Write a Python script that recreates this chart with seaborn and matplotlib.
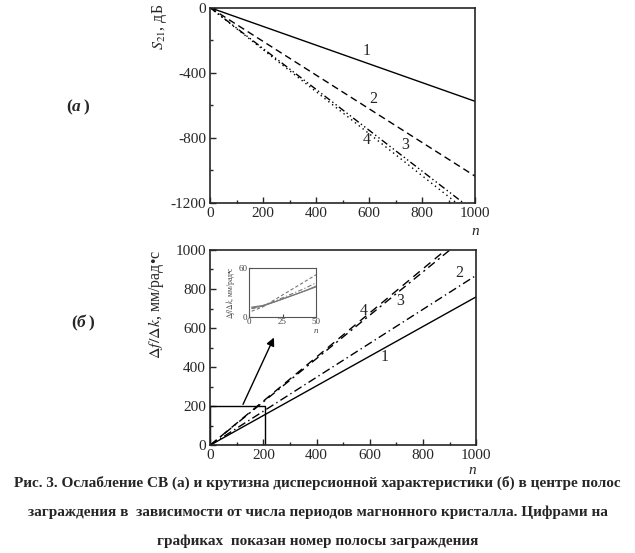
import matplotlib
matplotlib.use("Agg")
import matplotlib.pyplot as plt
import seaborn as sns
import pandas as pd
from matplotlib.patches import Rectangle

# ---- data ----
n_main = [0, 200, 400, 600, 800, 1000]
s21_1 = [0, -115, -230, -345, -460, -575]
s21_2 = [0, -207, -414, -621, -828, -1035]
s21_3 = [0, -251, -502, -753, -1004, -1255]
s21_4 = [0, -258, -516, -774, -1032, -1290]

slope_1 = [0, 152, 304, 456, 608, 760]
slope_2 = [0, 174, 348, 522, 696, 870]
slope_3 = [0, 222, 444, 666, 888, 1110]
slope_4 = [0, 226, 452, 678, 904, 1130]

n_inset = [2, 10, 20, 30, 40, 50]
ins_1 = [11, 13, 19, 25, 31, 37]
ins_2 = [10, 13, 20, 27, 34, 42]
ins_3 = [7, 12, 22, 32, 42, 52]
ins_4 = [12, 14, 19, 25, 31, 38]

series_names = ["1", "2", "3", "4"]
x_ticks = [0, 200, 400, 600, 800, 1000]
top_yticks = [0, -400, -800, -1200]
bot_yticks = [0, 200, 400, 600, 800, 1000]

caption = ["Рис. 3. Ослабление СВ (а) и крутизна дисперсионной характеристики (б) в центре полос",
           "заграждения в  зависимости от числа периодов магнонного кристалла. Цифрами на",
           "графиках  показан номер полосы заграждения"]

sns.set_style("ticks")
plt.rcParams['font.family'] = ['Liberation Serif', 'DejaVu Serif']
plt.rcParams['mathtext.fontset'] = 'stix'
plt.rcParams['xtick.direction'] = 'in'
plt.rcParams['ytick.direction'] = 'in'

def long_df(x, ys):
    rows = []
    for name, y in zip(series_names, ys):
        for xi, yi in zip(x, y):
            rows.append({"n": xi, "v": yi, "s": name})
    return pd.DataFrame(rows)

fig = plt.figure(figsize=(6.35, 5.53), dpi=100)

ax1 = fig.add_axes([0.331, 0.633, 0.417, 0.353])
ax2 = fig.add_axes([0.331, 0.195, 0.419, 0.353])

dash_top = {"1": "", "2": (5, 3), "3": (5, 2, 1, 2, 1, 2), "4": (1, 2.5)}
dash_bot = {"1": "", "2": (6, 2.5, 1, 2.5), "3": (6, 3, 1.5, 3), "4": (6, 4)}

df_top = long_df(n_main, [s21_1, s21_2, s21_3, s21_4])
df_bot = long_df(n_main, [slope_1, slope_2, slope_3, slope_4])
df_in = long_df(n_inset, [ins_1, ins_2, ins_3, ins_4])

pal = {k: "black" for k in series_names}
sns.lineplot(data=df_top, x="n", y="v", hue="s", style="s", dashes=dash_top,
             palette=pal, ax=ax1, legend=False, linewidth=1.0)
sns.lineplot(data=df_bot, x="n", y="v", hue="s", style="s", dashes=dash_bot,
             palette=pal, ax=ax2, legend=False, linewidth=1.0)

for ax in (ax1, ax2):
    for sp in ax.spines.values():
        sp.set_linewidth(1.2)
        sp.set_visible(True)
    ax.set_xlim(0, 1000)
    ax.set_xticks(x_ticks)
    ax.set_xticks([100, 300, 500, 700, 900], minor=True)
    ax.tick_params(axis='both', which='major', labelsize=11, length=4, width=1, pad=3)
    ax.tick_params(axis='both', which='minor', length=2.5, width=1)
    ax.set_xlabel("")

ax1.text(1.0, -0.145, "n", transform=ax1.transAxes, style='italic', fontsize=11,
         ha='center', va='center')
ax2.text(0.985, -0.13, "n", transform=ax2.transAxes, style='italic', fontsize=11,
         ha='center', va='center')

ax1.set_ylim(-1200, 0)
ax1.set_yticks(top_yticks)
ax1.set_yticks([-200, -600, -1000], minor=True)
ax1.set_yticklabels([str(v) for v in top_yticks])
ax1.set_ylabel(r"$S_{21}$, дБ", fontsize=11.5, loc='top')
ax1.yaxis.set_label_coords(-0.155, 1.02)

ax2.set_ylim(0, 1000)
ax2.set_yticks(bot_yticks)
ax2.set_yticks([100, 300, 500, 700, 900], minor=True)
ax2.set_ylabel(r"$\Delta f/\Delta k$, мм/рад•с", fontsize=11.5, loc='top')
ax2.yaxis.set_label_coords(-0.165, 1.0)

# curve labels
for txt, (x, y) in zip(series_names, [(589, -267), (614, -564), (736, -845), (591, -810)]):
    ax1.text(x, y, txt, fontsize=11.5, ha='center', va='center')
for txt, (x, y) in zip(series_names, [(656, 450), (935, 880), (715, 736), (577, 687)]):
    ax2.text(x, y, txt, fontsize=11.5, ha='center', va='center')

# zoom box and arrow
ax2.add_patch(Rectangle((0, 0), 205, 200, fill=False, edgecolor='black', linewidth=1.0))
ax2.annotate("", xy=(244, 564), xytext=(119, 196),
             arrowprops=dict(arrowstyle='-|>', color='black', lw=1.0, mutation_scale=12))

# inset
axi = fig.add_axes([0.392, 0.427, 0.106, 0.088])
dash_in = {"1": "", "2": (4, 2, 1, 2), "3": (3, 2), "4": ""}
sns.lineplot(data=df_in, x="n", y="v", hue="s", style="s", dashes=dash_in,
             palette={k: "#777777" for k in series_names}, ax=axi, legend=False, linewidth=0.8)
axi.set_xlim(0, 50)
axi.set_ylim(0, 60)
axi.set_xticks([0, 25, 50])
axi.set_yticks([0, 60])
axi.tick_params(labelsize=6.5, length=2, pad=1, colors='#444444')
for sp in axi.spines.values():
    sp.set_linewidth(0.8)
    sp.set_color('#555555')
    sp.set_visible(True)
axi.set_xlabel("")
axi.set_ylabel(r"$\Delta f/\Delta k$, мм/рад•с", fontsize=5.5, labelpad=1, color='#444444')
axi.text(1.0, -0.3, "n", transform=axi.transAxes, style='italic', fontsize=6.5,
         ha='center', va='center', color='#444444')

# panel letters
fig.text(0.113, 0.806, "(", fontsize=12.5, fontweight='bold', ha='right', va='center')
fig.text(0.113, 0.806, "а", fontsize=12.5, fontweight='bold', style='italic', ha='left', va='center')
fig.text(0.131, 0.806, ")", fontsize=12.5, fontweight='bold', ha='left', va='center')
fig.text(0.121, 0.416, "(", fontsize=12.5, fontweight='bold', ha='right', va='center')
fig.text(0.121, 0.416, "б", fontsize=12.5, fontweight='bold', style='italic', ha='left', va='center')
fig.text(0.140, 0.416, ")", fontsize=12.5, fontweight='bold', ha='left', va='center')

# caption
for i, (line, yc) in enumerate(zip(caption, [483, 512, 541])):
    fig.text(0.5, 1 - yc / 553, line, fontsize=11, fontweight='bold',
             ha='center', va='center')

fig.savefig("out.png", dpi=100)
